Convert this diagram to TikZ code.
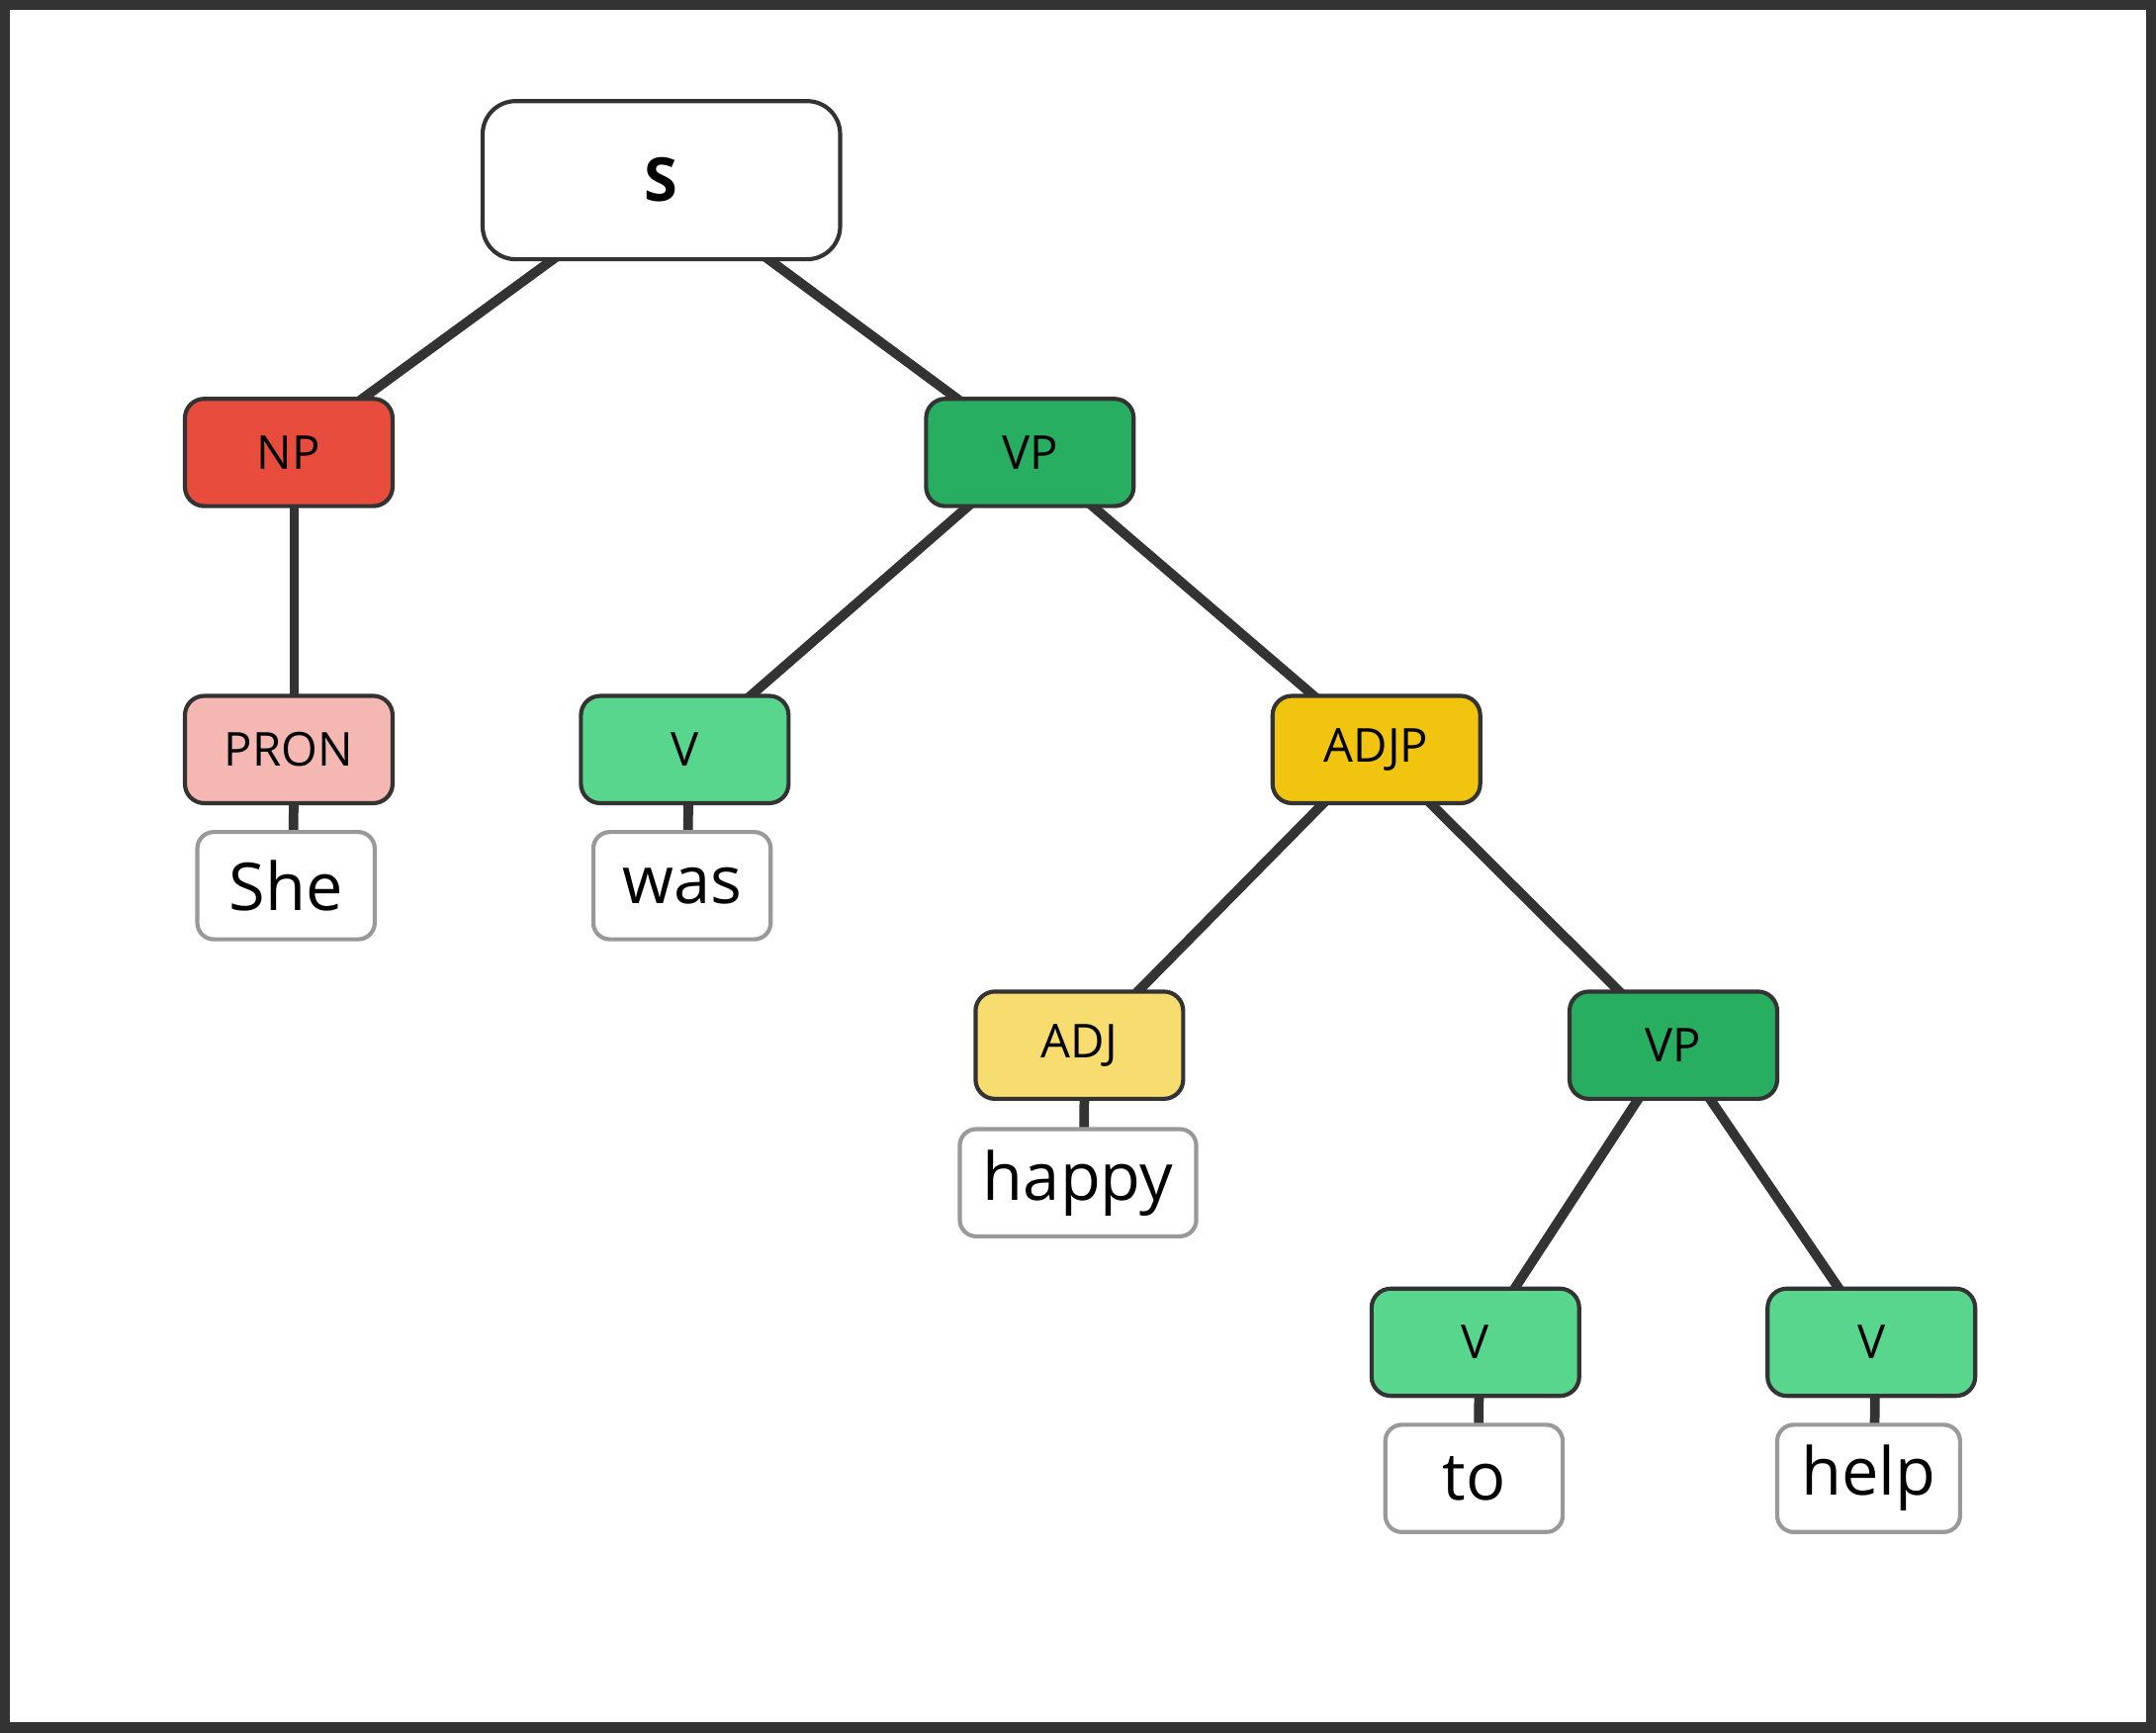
\documentclass[tikz,border=0pt]{standalone}
\usepackage{fontspec}
\setmainfont{Open Sans}
\begin{document}
\begin{tikzpicture}[x=0.5pt,y=-0.5pt,
  cat/.style={draw=black!80,line width=1.5pt,rounded corners=7pt,minimum width=75.5pt,minimum height=39pt,inner sep=0pt,font=\fontsize{17}{20}\selectfont},
  word/.style={draw=black!40,fill=white,line width=1.5pt,rounded corners=6pt,minimum width=64.5pt,minimum height=39pt,inner sep=0pt,font=\fontsize{24}{28}\selectfont},
  edge/.style={draw=black!80,line width=3.5pt}]
\definecolor{npc}{HTML}{E74C3C}
\definecolor{vpc}{HTML}{27AE60}
\definecolor{pronc}{HTML}{F5B7B1}
\definecolor{vc}{HTML}{58D68D}
\definecolor{adjpc}{HTML}{F1C40F}
\definecolor{adjc}{HTML}{F7DC6F}
\useasboundingbox (0,0) rectangle (1568,1260);
\fill[white] (0,0) rectangle (1568,1260);
\draw[black!80,line width=5pt] (2.5,2.5) rectangle (1565.5,1257.5);
\coordinate (cS) at (481,131);
\coordinate (cNP) at (210,329);
\coordinate (cVP) at (749,329);
\coordinate (cPRON) at (214,545);
\coordinate (cV1) at (501,545);
\coordinate (cADJP) at (1001,545);
\coordinate (cADJ) at (789,760);
\coordinate (cVP2) at (1217,760);
\coordinate (cV2) at (1076,976);
\coordinate (cV3) at (1364,976);
\draw[edge] (cS)--(cNP); \draw[edge] (cS)--(cVP);
\draw[edge] (214,329)--(cPRON);
\draw[edge] (cVP)--(cV1); \draw[edge] (cVP)--(cADJP);
\draw[edge] (cADJP)--(cADJ); \draw[edge] (cADJP)--(cVP2);
\draw[edge] (cVP2)--(cV2); \draw[edge] (cVP2)--(cV3);
\draw[edge] (cPRON)--(213,644);
\draw[edge] (cV1)--(500,644);
\draw[edge] (cADJ)--(788,860);
\draw[edge] (cV2)--(1075,1075);
\draw[edge] (cV3)--(1363,1075);
\node[cat,fill=white,minimum width=130pt,minimum height=57.5pt,rounded corners=12pt,font=\fontsize{22}{26}\selectfont\bfseries] (S) at (481,131) {S};
\node[cat,fill=npc] (NP) at (210,329) {NP};
\node[cat,fill=vpc] (VP) at (749,329) {VP};
\node[cat,fill=pronc] (PRON) at (210,545) {PRON};
\node[cat,fill=vc] (V1) at (498,545) {V};
\node[cat,fill=adjpc] (ADJP) at (1001,545) {ADJP};
\node[cat,fill=adjc] (ADJ) at (785,760) {ADJ};
\node[cat,fill=vpc] (VP2) at (1217,760) {VP};
\node[cat,fill=vc] (V2) at (1073,976) {V};
\node[cat,fill=vc] (V3) at (1361,976) {V};
\node[word] (w1) at (208,644) {She};
\node[word] (w2) at (496,644) {was};
\node[word,minimum width=86pt] (w3) at (784,860) {happy};
\node[word] (w4) at (1072,1075) {to};
\node[word,minimum width=66.5pt] (w5) at (1359,1075) {help};
\end{tikzpicture}
\end{document}
